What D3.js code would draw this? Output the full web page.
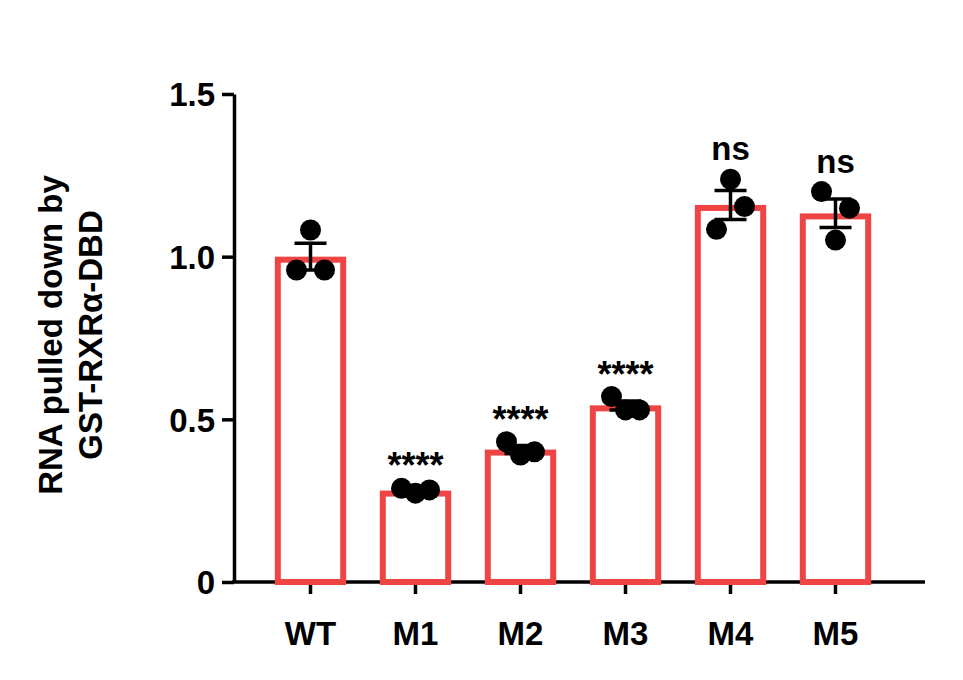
<!DOCTYPE html>
<html><head><meta charset="utf-8">
<script src="https://cdn.jsdelivr.net/npm/d3@7"></script>
<style>body{margin:0;background:#fff}</style></head>
<body><svg id="c" width="963" height="680"></svg>
<script>
const categories = ["WT","M1","M2","M3","M4","M5"];
const means = [1.0, 0.281, 0.407, 0.543, 1.159, 1.133];
const points = [[1.082,0.959,0.959],[0.288,0.273,0.283],[0.431,0.390,0.400],[0.570,0.529,0.529],[1.238,1.154,1.084],[1.200,1.149,1.051]];
const jitter = [[0,-1,1],[-1,0,1],[-1,0,1],[-1,0,1],[0,1,-1],[-1,1,0]];
const sig = ["","****","****","****","ns","ns"];
const yTicks = [0,0.5,1.0,1.5];
const yTickLabels = ["0","0.5","1.0","1.5"];

const svg = d3.select("#c");
const y = d3.scaleLinear().domain([0,1.5]).range([582,94]);
const x = d3.scaleBand().domain(categories).range([258,888]).paddingInner(0.32).paddingOuter(0.16);
const font = "Arial, 'Liberation Sans', sans-serif";

const ya = svg.append("g").attr("transform","translate(234,0)")
  .call(d3.axisLeft(y).tickValues(yTicks).tickFormat((d,i)=>yTickLabels[i]).tickSize(12).tickSizeOuter(0));
ya.attr("font-size",null);
ya.select(".domain").attr("stroke","#000").attr("stroke-width",3.5);
ya.selectAll(".tick line").attr("stroke","#000").attr("stroke-width",3.5);
ya.selectAll("text").style("font-family",font).style("font-weight","bold").style("font-size","33px").attr("fill","#000").attr("x",-19).attr("dy","0.36em");
const xa = svg.append("g").attr("transform","translate(0,582)").call(d3.axisBottom(x).tickSize(12).tickSizeOuter(0));
xa.select(".domain").attr("stroke","#000").attr("stroke-width",3.5).attr("d","M232,0H925");
xa.selectAll(".tick line").attr("stroke","#000").attr("stroke-width",3.5);
xa.selectAll("text").style("font-family",font).style("font-weight","bold").style("font-size","33px").attr("fill","#000").attr("y",30).attr("dy","1em");

const bw = x.bandwidth();
svg.selectAll("rect.bar").data(means).join("rect")
  .attr("x",(d,i)=>x(categories[i])+3).attr("width",bw-6)
  .attr("y",d=>y(d)+3).attr("height",d=>582-y(d)-3)
  .attr("fill","none").attr("stroke","#ef4444").attr("stroke-width",6);

points.forEach((pts,i)=>{
  const cx = x(categories[i])+bw/2;
  const m = d3.mean(pts), se = d3.deviation(pts)/Math.sqrt(pts.length);
  const g = svg.append("g");
  pts.forEach((v,j)=>g.append("circle").attr("cx",cx+jitter[i][j]*14).attr("cy",y(v)).attr("r",10.5).attr("fill","#000"));
  g.append("line").attr("x1",cx).attr("x2",cx).attr("y1",y(m-se)).attr("y2",y(m+se)).attr("stroke","#000").attr("stroke-width",3.5);
  [m-se,m+se].forEach(v=>g.append("line").attr("x1",cx-16).attr("x2",cx+16).attr("y1",y(v)).attr("y2",y(v)).attr("stroke","#000").attr("stroke-width",3.5));
  if(sig[i]) svg.append("text").attr("x",cx).attr("y",y(d3.max(pts))-(sig[i]==="ns"?19:10))
    .attr("text-anchor","middle").style("font-family",font).style("font-weight","bold")
    .style("font-size",sig[i]==="ns"?"33px":"36px").text(sig[i]);
});

const yl = svg.append("text").attr("transform","translate(62,335) rotate(-90)").attr("text-anchor","middle")
  .style("font-family",font).style("font-weight","bold").style("font-size","33px").attr("fill","#000");
yl.append("tspan").attr("x",0).attr("dy",0).text("RNA pulled down by");
yl.append("tspan").attr("x",0).attr("dy",40).text("GST-RXRα-DBD");
</script></body></html>
